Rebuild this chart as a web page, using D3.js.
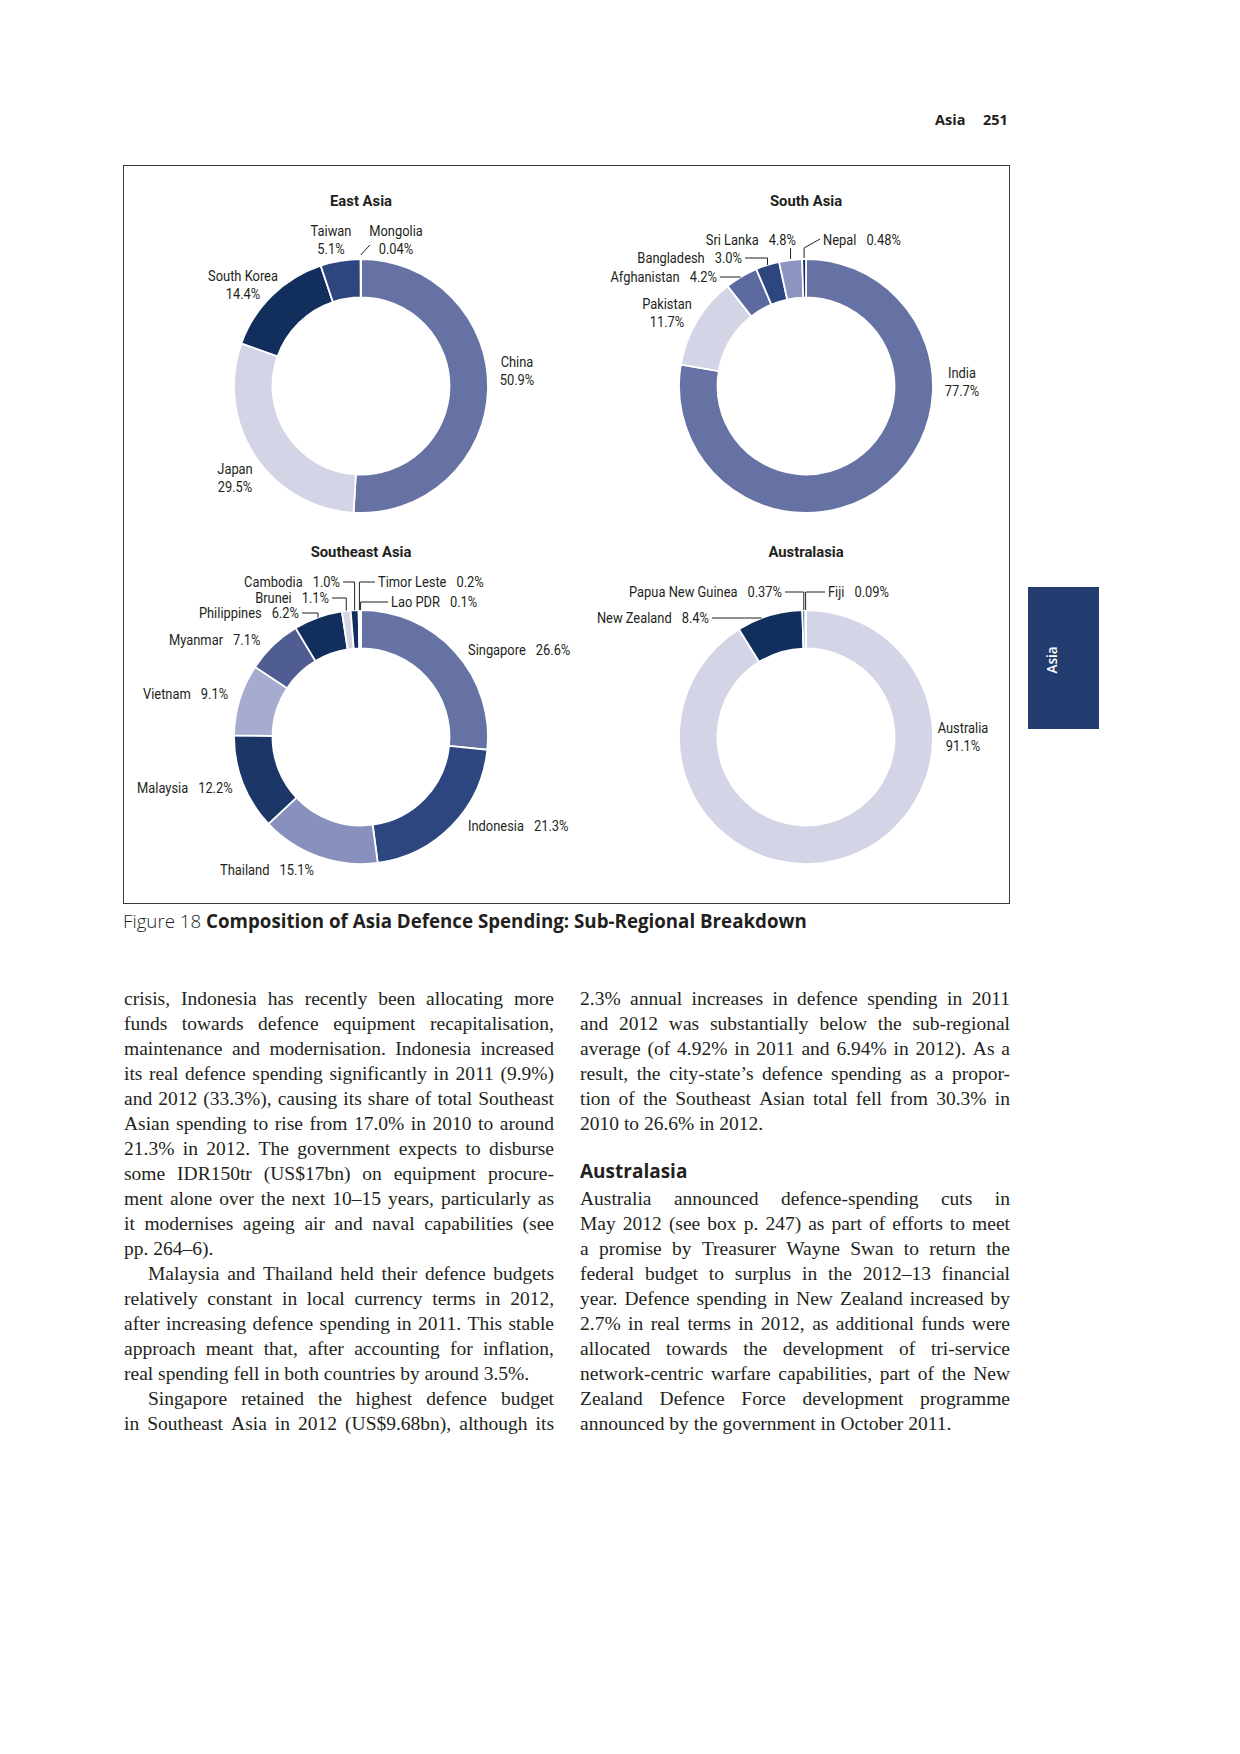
<!DOCTYPE html>
<html>
<head>
<meta charset="utf-8">
<script src="https://cdn.jsdelivr.net/npm/d3@7"></script>
<style>
  body { margin: 0; background: #fff; }
  svg { display: block; }
</style>
</head>
<body>
<svg id="page" width="1240" height="1754"></svg>
<script>
// ---- data ----
const eastAsiaNames = ['China', 'Japan', 'South Korea', 'Taiwan', 'Mongolia'];
const eastAsiaValues = [50.9, 29.5, 14.4, 5.1, 0.04];
const eastAsiaLabels = ['50.9%', '29.5%', '14.4%', '5.1%', '0.04%'];

// Sri Lanka's slice is drawn at about 2.9% in the figure, though it is printed as 4.8%
const southAsiaNames = ['India', 'Pakistan', 'Afghanistan', 'Bangladesh', 'Sri Lanka', 'Nepal'];
const southAsiaValues = [77.7, 11.7, 4.2, 3.0, 2.92, 0.48];
const southAsiaLabels = ['77.7%', '11.7%', '4.2%', '3.0%', '4.8%', '0.48%'];

const seAsiaNames = ['Singapore', 'Indonesia', 'Thailand', 'Malaysia', 'Vietnam', 'Myanmar',
  'Philippines', 'Brunei', 'Cambodia', 'Timor Leste', 'Lao PDR'];
const seAsiaValues = [26.6, 21.3, 15.1, 12.2, 9.1, 7.1, 6.2, 1.1, 1.0, 0.2, 0.1];
const seAsiaLabels = ['26.6%', '21.3%', '15.1%', '12.2%', '9.1%', '7.1%', '6.2%', '1.1%', '1.0%', '0.2%', '0.1%'];

const australasiaNames = ['Australia', 'New Zealand', 'Papua New Guinea', 'Fiji'];
const australasiaValues = [91.1, 8.4, 0.37, 0.09];
const australasiaLabels = ['91.1%', '8.4%', '0.37%', '0.09%'];

const leftLines = [
  'crisis, Indonesia has recently been allocating more',
  'funds towards defence equipment recapitalisation,',
  'maintenance and modernisation. Indonesia increased',
  'its real defence spending significantly in 2011 (9.9%)',
  'and 2012 (33.3%), causing its share of total Southeast',
  'Asian spending to rise from 17.0% in 2010 to around',
  '21.3% in 2012. The government expects to disburse',
  'some IDR150tr (US$17bn) on equipment procure-',
  'ment alone over the next 10–15 years, particularly as',
  'it modernises ageing air and naval capabilities (see',
  'pp. 264–6).',
  'Malaysia and Thailand held their defence budgets',
  'relatively constant in local currency terms in 2012,',
  'after increasing defence spending in 2011. This stable',
  'approach meant that, after accounting for inflation,',
  'real spending fell in both countries by around 3.5%.',
  'Singapore retained the highest defence budget',
  'in Southeast Asia in 2012 (US$9.68bn), although its'
];
const leftParaEnds = [10, 15];
const leftIndents = [11, 16];

const rightLines = [
  '2.3% annual increases in defence spending in 2011',
  'and 2012 was substantially below the sub-regional',
  'average (of 4.92% in 2011 and 6.94% in 2012). As a',
  'result, the city-state’s defence spending as a propor-',
  'tion of the Southeast Asian total fell from 30.3% in',
  '2010 to 26.6% in 2012.',
  null,
  null,
  'Australia announced defence-spending cuts in',
  'May 2012 (see box p. 247) as part of efforts to meet',
  'a promise by Treasurer Wayne Swan to return the',
  'federal budget to surplus in the 2012–13 financial',
  'year. Defence spending in New Zealand increased by',
  '2.7% in real terms in 2012, as additional funds were',
  'allocated towards the development of tri-service',
  'network-centric warfare capabilities, part of the New',
  'Zealand Defence Force development programme',
  'announced by the government in October 2011.'
];
const rightParaEnds = [5, 17];
const rightHeading = 'Australasia';

// ---- styles and layout ----
const ink = '#231f20';
const labelFont = "Roboto,'Liberation Sans',sans-serif";
const bodyFont = "'Liberation Serif','Times New Roman',serif";
const sansFont = "'Open Sans','Noto Sans',sans-serif";

const light = '#d3d5e6', mid = '#6572a3', navy = '#112e5d', blue = '#2d4680';

const panels = [
  {
    title: 'East Asia', cx: 361, cy: 386,
    names: eastAsiaNames, values: eastAsiaValues, labels: eastAsiaLabels,
    colors: [mid, light, navy, blue, navy],
    place: [
      { x: 517, y: 362, type: 'stack' },
      { x: 235, y: 469, type: 'stack' },
      { x: 243, y: 276, type: 'stack' },
      { x: 331, y: 231, type: 'stack' },
      { x: 396, y: 231, type: 'stack', leader: 'd' }
    ]
  },
  {
    title: 'South Asia', cx: 806, cy: 386,
    names: southAsiaNames, values: southAsiaValues, labels: southAsiaLabels,
    colors: [mid, light, '#5c6aa0', blue, '#8c94c0', navy],
    place: [
      { x: 962, y: 373, type: 'stack' },
      { x: 667, y: 304, type: 'stack' },
      { x: 717, y: 277, type: 'end', leader: 'h' },
      { x: 742, y: 258, type: 'end', leader: 'hv' },
      { x: 796, y: 240, type: 'end', leader: 'v' },
      { x: 823, y: 240, type: 'start', leader: 'vd' }
    ]
  },
  {
    title: 'Southeast Asia', cx: 361, cy: 737,
    names: seAsiaNames, values: seAsiaValues, labels: seAsiaLabels,
    colors: [mid, blue, '#8890be', '#1c3668', '#a7abcf', '#4f5d93', navy, light, navy, blue, navy],
    place: [
      { x: 468, y: 650, type: 'start' },
      { x: 468, y: 826, type: 'start' },
      { x: 220, y: 870, type: 'start' },
      { x: 137, y: 788, type: 'start' },
      { x: 143, y: 694, type: 'start' },
      { x: 169, y: 640, type: 'start' },
      { x: 299, y: 613, type: 'end', leader: 'hv' },
      { x: 329, y: 598, type: 'end', leader: 'hv' },
      { x: 340, y: 582, type: 'end', leader: 'hv' },
      { x: 378, y: 582, type: 'start', leader: 'hv' },
      { x: 391, y: 602, type: 'start', leader: 'hv' }
    ]
  },
  {
    title: 'Australasia', cx: 806, cy: 737,
    names: australasiaNames, values: australasiaValues, labels: australasiaLabels,
    colors: [light, navy, blue, navy],
    place: [
      { x: 963, y: 728, type: 'stack' },
      { x: 709, y: 618, type: 'end', leader: 'h' },
      { x: 782, y: 592, type: 'end', leader: 'hv' },
      { x: 828, y: 592, type: 'start', leader: 'hv' }
    ]
  }
];

const outerR = 127;
const innerR = 88.5;
const labelSize = 15;
const titleSize = 15.5;

const svg = d3.select('#page');
svg.append('rect').attr('width', 1240).attr('height', 1754).attr('fill', '#fff');

function textWidth(str, size, family, weight) {
  const t = svg.append('text')
    .attr('font-family', family).attr('font-size', size).attr('font-weight', weight || 400)
    .style('white-space', 'pre').text(str);
  const w = t.node().getComputedTextLength();
  t.remove();
  return w;
}

// the figure uses a condensed face; squeeze the labels to its measured widths
const labelSqueeze = 70 / textWidth('South Korea', labelSize, labelFont);
const titleSqueeze = 62 / textWidth('East Asia', titleSize, labelFont, 700);

// ---- page furniture ----
const header = svg.append('g')
  .attr('font-family', sansFont).attr('font-weight', 700)
  .attr('font-size', 14.5).attr('fill', ink);
header.append('text').attr('x', 935).attr('y', 125).text('Asia');
header.append('text').attr('x', 983).attr('y', 125).text('251');

svg.append('rect')
  .attr('x', 1028).attr('y', 587).attr('width', 71).attr('height', 142)
  .attr('fill', '#243d70');
svg.append('text')
  .attr('transform', 'translate(1052,660) rotate(-90)')
  .attr('text-anchor', 'middle').attr('dy', '0.36em')
  .attr('font-family', sansFont).attr('font-weight', 600).attr('font-size', 13.5)
  .attr('fill', '#fff').text('Asia');

svg.append('rect')
  .attr('x', 123.5).attr('y', 165.5).attr('width', 886).attr('height', 738)
  .attr('fill', 'none').attr('stroke', '#3a3a3a').attr('stroke-width', 1);

// ---- donuts ----
const pie = d3.pie().sort(null).value((d) => d.value);
const arc = d3.arc().innerRadius(innerR).outerRadius(outerR);

function polar(p, r, a) {
  return [p.cx + r * Math.sin(a), p.cy - r * Math.cos(a)];
}

panels.forEach((p) => {
  const rows = p.names.map((n, i) => ({ name: n, value: p.values[i], label: p.labels[i], i: i }));
  const slices = pie(rows);

  svg.append('g')
    .attr('transform', `translate(${p.cx},${p.cy - 186}) scale(${titleSqueeze},1)`)
    .append('text')
    .attr('dy', '0.36em')
    .attr('text-anchor', 'middle')
    .attr('font-family', labelFont).attr('font-weight', 700).attr('font-size', titleSize)
    .attr('fill', ink)
    .text(p.title);

  const g = svg.append('g').attr('transform', `translate(${p.cx},${p.cy})`);
  g.selectAll('path')
    .data(slices)
    .enter()
    .append('path')
    .attr('d', arc)
    .attr('fill', (d) => p.colors[d.data.i])
    .attr('stroke', '#fff')
    .attr('stroke-width', 1.8)
    .attr('stroke-linejoin', 'miter');

  const labels = svg.append('g')
    .attr('font-family', labelFont).attr('font-size', labelSize).attr('fill', ink);
  const leaders = svg.append('g')
    .attr('fill', 'none').attr('stroke', ink).attr('stroke-width', 1);

  slices.forEach((s) => {
    const pl = p.place[s.data.i];
    const lg = labels.append('g')
      .attr('transform', `translate(${pl.x},${pl.y}) scale(${labelSqueeze},1)`);
    if (pl.type === 'stack') {
      const t = lg.append('text').attr('text-anchor', 'middle');
      t.append('tspan').attr('x', 0).attr('y', 0).attr('dy', '0.36em').text(s.data.name);
      t.append('tspan').attr('x', 0).attr('y', 18).attr('dy', '0.36em').text(s.data.label);
    } else {
      const t = lg.append('text').attr('dy', '0.36em').attr('text-anchor', pl.type);
      t.append('tspan').text(s.data.name);
      t.append('tspan').attr('dx', 10 / labelSqueeze).text(s.data.label);
    }

    if (!pl.leader) return;
    const a = (s.startAngle + s.endAngle) / 2;
    const edge = polar(p, outerR, a);
    const side = pl.type === 'end' ? 3 : -3;
    let pts;
    if (pl.leader === 'hv') {
      pts = [[pl.x + side, pl.y], [edge[0], pl.y], edge];
    } else if (pl.leader === 'h') {
      const dy = pl.y - p.cy;
      const dx = Math.sqrt(outerR * outerR - dy * dy);
      pts = [[pl.x + side, pl.y], [p.cx + (Math.sin(a) < 0 ? -dx : dx), pl.y]];
    } else if (pl.leader === 'v') {
      pts = [[edge[0], pl.y + 8], [edge[0], edge[1] - 1]];
    } else if (pl.leader === 'vd') {
      pts = [[edge[0], edge[1] - 1], [edge[0], pl.y + 8], [pl.x - 3, pl.y - 1]];
    } else {
      const e = polar(p, outerR + 4, a);
      pts = [e, [e[0] + 9, e[1] - 10]];
    }
    leaders.append('path').attr('d', d3.line()(pts));
  });
});

// ---- caption ----
const cap = svg.append('text')
  .attr('x', 123).attr('y', 928)
  .attr('font-family', sansFont).attr('font-size', 18).attr('fill', ink);
cap.append('tspan').attr('font-weight', 300).text('Figure 18 ');
cap.append('tspan').attr('font-weight', 700).text('Composition of Asia Defence Spending: Sub-Regional Breakdown');
const capW = cap.node().getComputedTextLength();
cap.attr('font-size', 18 * 684 / capW);

// ---- body text ----
const colW = 430;
const indentW = 24;
const lineGap = 25;
const firstBase = 1005;

function lineNeed(str, size, indent) {
  const words = str.split(' ');
  const ws = d3.sum(words, (w) => textWidth(w, size, bodyFont));
  const sp = textWidth('a a', size, bodyFont) - textWidth('aa', size, bodyFont);
  return ws + (words.length - 1) * sp * 0.8 + indent;
}

let scale = 1;
leftLines.forEach((l, i) => {
  if (leftParaEnds.includes(i)) return;
  const need = lineNeed(l, 20, leftIndents.includes(i) ? indentW : 0);
  scale = Math.min(scale, colW / need);
});
rightLines.forEach((l, i) => {
  if (!l || rightParaEnds.includes(i)) return;
  scale = Math.min(scale, colW / lineNeed(l, 20, 0));
});
const bodySize = Math.min(19.5, 20 * scale);
const spaceW = textWidth('a a', bodySize, bodyFont) - textWidth('aa', bodySize, bodyFont);

function drawColumn(lines, x0, paraEnds, indents) {
  const g = svg.append('g')
    .attr('font-family', bodyFont).attr('font-size', bodySize).attr('fill', ink);
  lines.forEach((l, i) => {
    if (!l) return;
    const y = firstBase + i * lineGap;
    const indent = indents.includes(i) ? indentW : 0;
    const words = l.split(' ');
    const widths = words.map((w) => textWidth(w, bodySize, bodyFont));
    const justify = !paraEnds.includes(i) && words.length > 1;
    const gap = justify ? (colW - indent - d3.sum(widths)) / (words.length - 1) : spaceW;
    let x = x0 + indent;
    words.forEach((w, k) => {
      g.append('text').attr('x', x).attr('y', y).text(w);
      x += widths[k] + gap;
    });
  });
}

drawColumn(leftLines, 124, leftParaEnds, leftIndents);
drawColumn(rightLines, 580, rightParaEnds, []);

svg.append('text')
  .attr('x', 580).attr('y', firstBase + 7 * lineGap - 2)
  .attr('font-family', sansFont).attr('font-weight', 700).attr('font-size', 19)
  .attr('fill', ink).text(rightHeading);
</script>
</body>
</html>
